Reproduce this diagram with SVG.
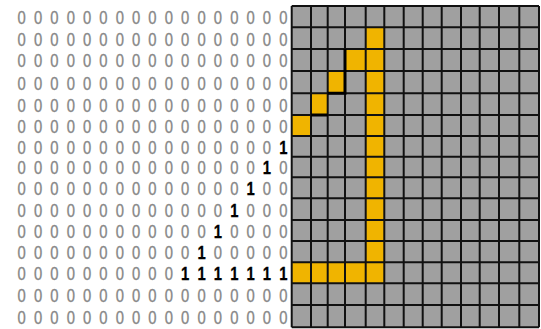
<svg xmlns="http://www.w3.org/2000/svg" width="541" height="329" viewBox="0 0 541 329">
<style>
.d{font-family:"Liberation Sans",Arial,sans-serif;font-size:19px;fill:#858585;stroke:#8a8a8a;stroke-width:0.35;text-anchor:middle}
.o{font-weight:bold;fill:#000;stroke:#000;stroke-width:0.3}
.on{fill:#f0b400}
</style>
<rect width="541" height="329" fill="#fff"/>
<g id="bits" transform="scale(0.78 1)">
<text class="d" y="24.2" x="27.82 48.78 69.74 90.71 111.67 132.63 153.59 174.55 195.51 216.47 237.44 258.4 279.36 300.32 321.28 342.24 363.21">00000000000000000</text>
<text class="d" y="45.7" x="27.82 48.78 69.74 90.71 111.67 132.63 153.59 174.55 195.51 216.47 237.44 258.4 279.36 300.32 321.28 342.24 363.21">00000000000000000</text>
<text class="d" y="67.5" x="27.82 48.78 69.74 90.71 111.67 132.63 153.59 174.55 195.51 216.47 237.44 258.4 279.36 300.32 321.28 342.24 363.21">00000000000000000</text>
<text class="d" y="89.7" x="27.82 48.78 69.74 90.71 111.67 132.63 153.59 174.55 195.51 216.47 237.44 258.4 279.36 300.32 321.28 342.24 363.21">00000000000000000</text>
<text class="d" y="111.7" x="27.82 48.78 69.74 90.71 111.67 132.63 153.59 174.55 195.51 216.47 237.44 258.4 279.36 300.32 321.28 342.24 363.21">00000000000000000</text>
<text class="d" y="133" x="27.82 48.78 69.74 90.71 111.67 132.63 153.59 174.55 195.51 216.47 237.44 258.4 279.36 300.32 321.28 342.24 363.21">00000000000000000</text>
<text class="d" y="153.9" x="27.82 48.78 69.74 90.71 111.67 132.63 153.59 174.55 195.51 216.47 237.44 258.4 279.36 300.32 321.28 342.24 363.21">0000000000000000<tspan class="o">1</tspan></text>
<text class="d" y="174.5" x="27.82 48.78 69.74 90.71 111.67 132.63 153.59 174.55 195.51 216.47 237.44 258.4 279.36 300.32 321.28 342.24 363.21">000000000000000<tspan class="o">1</tspan>0</text>
<text class="d" y="195.3" x="27.82 48.78 69.74 90.71 111.67 132.63 153.59 174.55 195.51 216.47 237.44 258.4 279.36 300.32 321.28 342.24 363.21">00000000000000<tspan class="o">1</tspan>00</text>
<text class="d" y="216.7" x="27.82 48.78 69.74 90.71 111.67 132.63 153.59 174.55 195.51 216.47 237.44 258.4 279.36 300.32 321.28 342.24 363.21">0000000000000<tspan class="o">1</tspan>000</text>
<text class="d" y="238" x="27.82 48.78 69.74 90.71 111.67 132.63 153.59 174.55 195.51 216.47 237.44 258.4 279.36 300.32 321.28 342.24 363.21">000000000000<tspan class="o">1</tspan>0000</text>
<text class="d" y="259.2" x="27.82 48.78 69.74 90.71 111.67 132.63 153.59 174.55 195.51 216.47 237.44 258.4 279.36 300.32 321.28 342.24 363.21">00000000000<tspan class="o">1</tspan>00000</text>
<text class="d" y="280.3" x="27.82 48.78 69.74 90.71 111.67 132.63 153.59 174.55 195.51 216.47 237.44 258.4 279.36 300.32 321.28 342.24 363.21">0000000000<tspan class="o">1111111</tspan></text>
<text class="d" y="301.7" x="27.82 48.78 69.74 90.71 111.67 132.63 153.59 174.55 195.51 216.47 237.44 258.4 279.36 300.32 321.28 342.24 363.21">00000000000000000</text>
<text class="d" y="323.7" x="27.82 48.78 69.74 90.71 111.67 132.63 153.59 174.55 195.51 216.47 237.44 258.4 279.36 300.32 321.28 342.24 363.21">00000000000000000</text>
</g>
<g id="grid">
<rect x="291.7" y="6" width="247.3" height="321.3" fill="#a0a0a0"/>
<g id="cells-on">
<rect class="on" x="365.7" y="27.3" width="18.6" height="256"/>
<rect class="on" x="345" y="49" width="20.7" height="22"/>
<rect class="on" x="327.7" y="71" width="17.3" height="22.3"/>
<rect class="on" x="311" y="93.3" width="16.7" height="21.7"/>
<rect class="on" x="291.7" y="115" width="19.3" height="21"/>
<rect class="on" x="291.7" y="262.3" width="74" height="21"/>
</g>
<path id="lines" fill="none" stroke="#111" stroke-width="2" d="M291.7,6V327.3M311,6V327.3M327.7,6V327.3M345,6V327.3M365.7,6V327.3M384.3,6V327.3M403.7,6V327.3M422.7,6V327.3M441.7,6V327.3M461,6V327.3M479.7,6V327.3M499,6V327.3M519.3,6V327.3M539,6V327.3M291.7,6H539M291.7,27.3H539M291.7,49H539M291.7,71H539M291.7,93.3H539M291.7,115H539M291.7,136H539M291.7,156.7H539M291.7,177.3H539M291.7,198.3H539M291.7,220H539M291.7,241H539M291.7,262.3H539M291.7,283.3H539M291.7,305H539M291.7,327.3H539"/>
<path fill="none" stroke="#000" stroke-width="3" d="M345,49V93.3H327.7M327.7,115H311"/>
</g>
</svg>
